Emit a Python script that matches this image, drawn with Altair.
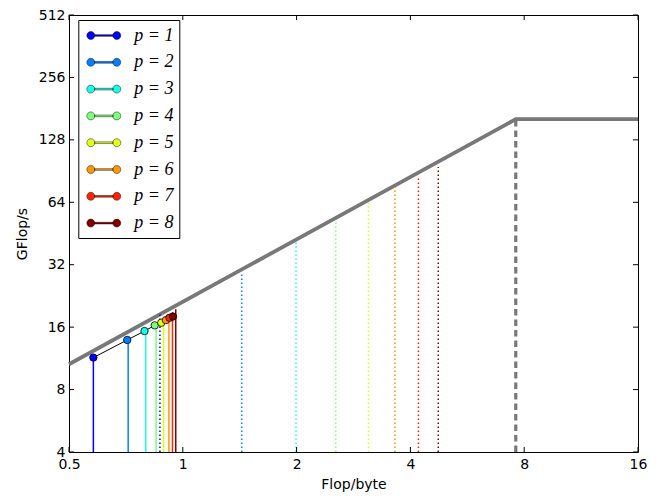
import altair as alt
import pandas as pd

# ---- data ----
labels = ["p = 1", "p = 2", "p = 3", "p = 4", "p = 5", "p = 6", "p = 7", "p = 8"]
line_ids = ["1", "2", "3", "4", "5", "6", "7", "8"]
colors = ["#0000ff", "#0080ff", "#15ffe2", "#7bff7b", "#e2ff15", "#ff9700", "#ff2100", "#800000"]

point_x = [0.580, 0.713, 0.792, 0.843, 0.877, 0.902, 0.922, 0.942]
point_y = [11.41, 13.88, 15.32, 16.32, 16.8, 17.3, 17.75, 18.0]

solid_x = [0.580, 0.717, 0.798, 0.850, 0.889, 0.919, 0.939, 0.958]
solid_top = [11.41, 13.88, 15.32, 16.32, 16.8, 18.3, 18.9, 19.5]

dotted_x = [0.870, 1.432, 1.993, 2.54, 3.10, 3.64, 4.20, 4.74]
dotted_top = [18.5, 29.2, 41.4, 51.6, 64.4, 75.9, 84.8, 94.7]

roof_x = [0.5, 7.6, 16.0]
roof_y = [10.6, 161.0, 161.0]
ridge_x = [7.6]
ridge_top = [161.0]

x_ticks = [0.5, 1, 2, 4, 8, 16]
y_ticks = [4, 8, 16, 32, 64, 128, 256, 512]
x_min, x_max = 0.5, 16
y_min, y_max = 4, 512

# ---- tables ----
pts = pd.DataFrame({"p": labels, "x": point_x, "y": point_y})
solid = pd.DataFrame({"id": line_ids, "x": solid_x, "base": y_min, "top": solid_top})
dotted = pd.DataFrame({"id": line_ids, "x": dotted_x, "base": y_min, "top": dotted_top})
roof = pd.DataFrame({"x": roof_x, "y": roof_y})
ridge = pd.DataFrame({"x": ridge_x, "base": y_min, "top": ridge_top})
xt = pd.DataFrame({"v": x_ticks})
yt = pd.DataFrame({"v": y_ticks})

W, H = 569, 437

xs = alt.Scale(type="log", base=2, domain=[x_min, x_max], nice=False)
ys = alt.Scale(type="log", base=2, domain=[y_min, y_max], nice=False)
xaxis = alt.Axis(values=x_ticks, format="~g", title="Flop/byte", labelFlush=False,
                 labelOverlap=False, labelPadding=5, titlePadding=6)
yaxis = alt.Axis(values=y_ticks, format="~g", title="GFlop/s", labelFlush=False,
                 labelOverlap=False, labelPadding=4, titlePadding=9)


def X(f):
    return alt.X(f, type="quantitative", scale=xs, axis=xaxis)


def Y(f):
    return alt.Y(f, type="quantitative", scale=ys, axis=yaxis)


stroke_scale = alt.Scale(domain=line_ids, range=colors)

legend_path = ("M-1.7,0A0.4,0.4,0,1,0,-0.9,0A0.4,0.4,0,1,0,-1.7,0Z"
               "M0.9,0A0.4,0.4,0,1,0,1.7,0A0.4,0.4,0,1,0,0.9,0Z"
               "M-0.92,-0.085L0.92,-0.085L0.92,0.085L-0.92,0.085Z")

dotted_layer = alt.Chart(dotted).mark_rule(strokeWidth=1.5, strokeDash=[1.5, 2.5]).encode(
    x=X("x"), y=Y("base"), y2="top",
    stroke=alt.Stroke("id:N", scale=stroke_scale, legend=None),
)

solid_layer = alt.Chart(solid).mark_rule(strokeWidth=1.5).encode(
    x=X("x"), y=Y("base"), y2="top",
    stroke=alt.Stroke("id:N", scale=stroke_scale, legend=None),
)

roof_layer = alt.Chart(roof).mark_line(color="#787878", strokeWidth=3.8).encode(
    x=X("x"), y=Y("y"),
)

ridge_layer = alt.Chart(ridge).mark_rule(color="#787878", strokeWidth=3.2, strokeDash=[6.5, 4]).encode(
    x=X("x"), y=Y("base"), y2="top",
)

conn_layer = alt.Chart(pts).mark_line(color="black", strokeWidth=1).encode(
    x=X("x"), y=Y("y"),
)

point_layer = alt.Chart(pts).mark_point(filled=True, size=55, stroke="black",
                                         strokeWidth=0.8, opacity=1, shape="circle").encode(
    x=X("x"), y=Y("y"),
    fill=alt.Fill("p:N", scale=alt.Scale(domain=labels, range=colors),
                  legend=alt.Legend(
                      orient="none", legendX=9.3, legendY=5, title=None,
                      symbolType=legend_path, symbolSize=400,
                      symbolStrokeColor="black", symbolStrokeWidth=0.45,
                      symbolOpacity=1, symbolOffset=10,
                      labelFont="Liberation Serif", labelFontStyle="italic",
                      labelFontSize=18, labelColor="black", labelOffset=20,
                      padding=5, rowPadding=6.8,
                      strokeColor="black", fillColor="white",
                  )),
)

tick_color = "black"
xtick_bottom = alt.Chart(xt).mark_rule(color=tick_color, strokeWidth=1).encode(
    x=X("v"), y=alt.value(H), y2=alt.value(H - 5))
xtick_top = alt.Chart(xt).mark_rule(color=tick_color, strokeWidth=1).encode(
    x=X("v"), y=alt.value(0), y2=alt.value(5))
ytick_left = alt.Chart(yt).mark_rule(color=tick_color, strokeWidth=1).encode(
    y=Y("v"), x=alt.value(0), x2=alt.value(5))
ytick_right = alt.Chart(yt).mark_rule(color=tick_color, strokeWidth=1).encode(
    y=Y("v"), x=alt.value(W), x2=alt.value(W - 5))

chart = alt.layer(
    roof_layer, ridge_layer, dotted_layer, solid_layer, conn_layer, point_layer,
    xtick_bottom, xtick_top, ytick_left, ytick_right,
).properties(
    width=W, height=H,
    autosize=alt.AutoSizeParams(type="none"),
    padding={"left": 61, "top": 7, "right": 20, "bottom": 40},
).configure_axis(
    labelFont="DejaVu Sans", labelFontSize=14, labelColor="black",
    titleFont="DejaVu Sans", titleFontSize=14, titleFontWeight="normal", titleColor="black",
    ticks=False, domain=False, grid=False,
).configure_view(
    stroke="black", strokeWidth=1,
)

chart.save("out.html", embed_options={"renderer": "svg", "actions": False})
